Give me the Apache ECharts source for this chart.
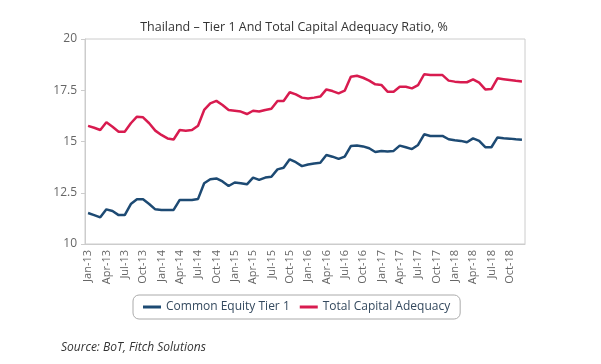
<!DOCTYPE html>
<html><head><meta charset="utf-8">
<script src="https://cdn.jsdelivr.net/npm/echarts@6/dist/echarts.min.js"></script>
<style>html,body{margin:0;padding:0;background:#fff}#c{width:601px;height:364px}</style>
</head><body><div id="c"></div>
<script>
const months = ['Jan','Feb','Mar','Apr','May','Jun','Jul','Aug','Sep','Oct','Nov','Dec'];
const years = ['13','14','15','16','17','18'];
const categories = [];
years.forEach(y => months.forEach(m => categories.push(m + '-' + y)));

const cet1 = [11.51,11.41,11.30,11.69,11.61,11.41,11.41,11.95,12.18,12.18,11.95,11.69,
  11.66,11.66,11.66,12.15,12.15,12.15,12.20,12.96,13.16,13.20,13.05,12.83,
  13.00,12.96,12.91,13.24,13.13,13.24,13.28,13.64,13.72,14.13,13.99,13.80,
  13.88,13.93,13.96,14.34,14.26,14.15,14.26,14.78,14.81,14.76,14.67,14.49,
  14.54,14.51,14.54,14.80,14.72,14.63,14.83,15.35,15.27,15.27,15.27,15.11,
  15.06,15.03,14.96,15.15,15.03,14.72,14.72,15.20,15.16,15.14,15.11,15.09];
const tca = [15.76,15.67,15.56,15.94,15.72,15.48,15.48,15.89,16.21,16.18,15.89,15.53,
  15.32,15.15,15.10,15.56,15.53,15.56,15.77,16.54,16.86,16.98,16.78,16.54,
  16.50,16.46,16.34,16.50,16.46,16.54,16.60,16.98,16.98,17.40,17.30,17.14,
  17.10,17.14,17.19,17.54,17.46,17.35,17.48,18.16,18.21,18.11,17.97,17.79,
  17.76,17.43,17.43,17.67,17.67,17.59,17.75,18.28,18.24,18.24,18.24,17.97,
  17.92,17.89,17.89,18.03,17.87,17.54,17.56,18.08,18.04,18.00,17.96,17.93];
const seriesNames = ['Common Equity Tier 1','Total Capital Adequacy'];
const yTicks = [10, 12.5, 15, 17.5, 20];

const chart = echarts.init(document.getElementById('c'));
chart.setOption({
  animation: false,
  textStyle: {fontFamily: 'Open Sans'},
  title: [{
    text: 'Thailand \u2013 Tier 1 And Total Capital Adequacy Ratio, %',
    left: 289, top: 16, textAlign: 'center',
    textStyle: {fontSize: 12.5, fontWeight: 'normal', color: '#333', fontFamily: 'Open Sans'}
  },{
    text: 'Source: BoT, Fitch Solutions',
    left: 56, top: 337,
    textStyle: {fontSize: 12, fontWeight: 'normal', fontStyle: 'italic', color: '#333', fontFamily: 'Open Sans'}
  }],
  grid: {left: 85, right: 76, top: 39, bottom: 120, show: true, borderColor: '#ccc', borderWidth: 1},
  legend: {
    data: seriesNames, left: 133, top: 295,
    borderColor: '#aaa', borderWidth: 1, borderRadius: 6,
    padding: [6, 10, 6, 10], itemGap: 10,
    icon: 'rect', itemWidth: 18, itemHeight: 3,
    textStyle: {fontSize: 12, color: '#34495e', fontFamily: 'Open Sans'}
  },
  xAxis: {
    type: 'category', data: categories, boundaryGap: true,
    axisLine: {lineStyle: {color: '#ccc'}},
    axisTick: {interval: 0, length: 3, lineStyle: {color: '#ccc'}},
    axisLabel: {interval: 2, rotate: 90, fontSize: 11, color: '#666', margin: 6}
  },
  yAxis: {
    type: 'value', min: 10, max: 20, interval: 2.5,
    axisLine: {show: true, lineStyle: {color: '#ccc'}},
    axisTick: {show: true, length: 4, lineStyle: {color: '#ccc'}},
    splitLine: {show: false},
    axisLabel: {fontSize: 12, color: '#666', margin: 8,
      formatter: v => yTicks.includes(v) ? String(v) : ''}
  },
  series: [
    {name: seriesNames[0], type: 'line', data: cet1, symbol: 'none',
     lineStyle: {width: 2.5, color: '#1d4a73'}, itemStyle: {color: '#1d4a73'}},
    {name: seriesNames[1], type: 'line', data: tca, symbol: 'none',
     lineStyle: {width: 2.5, color: '#d81b4f'}, itemStyle: {color: '#d81b4f'}}
  ]
});
</script></body></html>
